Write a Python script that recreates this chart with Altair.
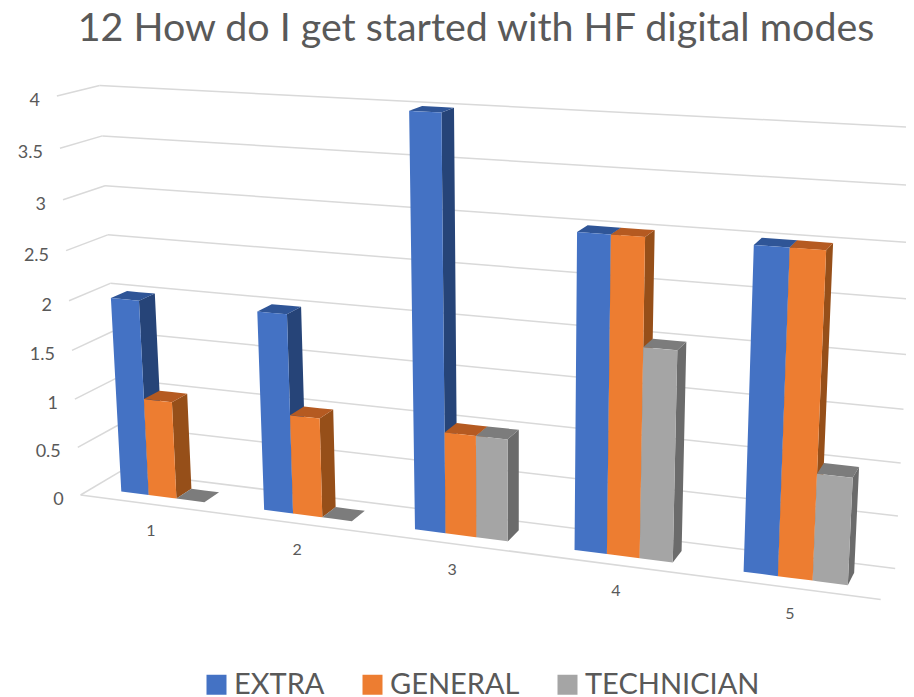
import altair as alt
import numpy as np
import pandas as pd

# ---- chart values ----
CATEGORIES = ["1", "2", "3", "4", "5"]
SERIES = ["EXTRA", "GENERAL", "TECHNICIAN"]
EXTRA = [2, 2, 4, 3, 3]
GENERAL = [1, 1, 1, 3, 3]
TECHNICIAN = [0, 0, 1, 2, 1]
VALUE_TICKS = [0, 0.5, 1, 1.5, 2, 2.5, 3, 3.5, 4]
TITLE = "12 How do I get started with HF digital modes"

FRONT = ["#4472C4", "#ED7D31", "#A5A5A5"]
SIDE = ["#264478", "#964F19", "#6B6B6B"]
TOP = ["#2F5597", "#B55A21", "#7C7C7C"]
GRID = "#D9D9D9"
TEXT = "#595959"
FONT = "Lato"

# ---- 3D camera fitted to the picture's walls: (s along axis, d depth, value) -> page px ----
front_left = [(80, 495), (78, 447), (75, 399), (72, 351), (69, 301), (66, 251), (63, 200), (60, 148), (57, 96)]
back_left = [(120, 472), (118, 425), (116, 378), (113, 331), (110, 283), (108, 235), (105, 186), (102, 136), (100, 85)]
back_right = [(895, 568), (898, 516), (901, 463), (903, 410), (907, 355), (909, 300), (912, 244), (915, 183), (918, 128)]
front_right_floor = (881, 599)

points = []
for v, p in zip(VALUE_TICKS, front_left):
    points.append((0, 0, v, *p))
for v, p in zip(VALUE_TICKS, back_left):
    points.append((0, 1, v, *p))
for v, p in zip(VALUE_TICKS, back_right):
    points.append((1, 1, v, *p))
points.append((1, 0, 0, *front_right_floor))

def fit_camera(weight_fn):
    rows, rhs = [], []
    for s, d, v, px, py in points:
        wt = weight_fn(s, d, v)
        rows.append([wt * c for c in (s, d, v, 1, 0, 0, 0, 0, -px * s, -px * d, -px * v)]); rhs.append(wt * px)
        rows.append([wt * c for c in (0, 0, 0, 0, s, d, v, 1, -py * s, -py * d, -py * v)]); rhs.append(wt * py)
    return np.linalg.lstsq(np.array(rows, float), np.array(rhs, float), rcond=None)[0]

P = fit_camera(lambda s, d, v: 1.0)
for _ in range(20):   # reweight so that the fit minimises error in pixels
    Q = P
    P = fit_camera(lambda s, d, v, Q=Q: 1.0 / (Q[8] * s + Q[9] * d + Q[10] * v + 1))

def project(s, d, v):
    w = P[8] * s + P[9] * d + P[10] * v + 1
    return (float((P[0] * s + P[1] * d + P[2] * v + P[3]) / w),
            float((P[4] * s + P[5] * d + P[6] * v + P[7]) / w))

def area_rows(poly, face, **extra):
    """Convex polygon -> x, top, bottom rows for an area mark."""
    xs = sorted({round(p[0], 3) for p in poly})
    out = []
    n = len(poly)
    for k, x in enumerate(xs):
        ys = []
        for i in range(n):
            (x0, y0), (x1, y1) = poly[i], poly[(i + 1) % n]
            lo, hi = min(x0, x1), max(x0, x1)
            if lo - 1e-3 <= x <= hi + 1e-3:
                if abs(x1 - x0) < 1e-3:
                    ys += [y0, y1]
                else:
                    ys.append(y0 + (y1 - y0) * (x - x0) / (x1 - x0))
        out.append(dict(x=x, y=min(ys), y2=max(ys), face=face, idx=k, **extra))
    return out

N = len(CATEGORIES)
BAR = 1 / 5.1 / N        # bar width along the axis
GAP = 1.05 * BAR         # half gap between category groups
D0, D1 = 0.30, 0.70      # depth of the bars

fronts, sides, tops = [], [], []
for c in range(N):
    for k, (name, vals) in enumerate(zip(SERIES, [EXTRA, GENERAL, TECHNICIAN])):
        v = vals[c]
        s0 = c / N + GAP + k * BAR
        s1 = s0 + BAR
        fid = f"f{c}s{k}"
        tops += area_rows([project(s0, D0, v), project(s1, D0, v), project(s1, D1, v), project(s0, D1, v)],
                          fid, fill=TOP[k])
        if v > 0:
            fronts += area_rows([project(s0, D0, 0), project(s1, D0, 0), project(s1, D0, v), project(s0, D0, v)],
                                fid, series=name)
            sides += area_rows([project(s1, D0, 0), project(s1, D1, 0), project(s1, D1, v), project(s1, D0, v)],
                               fid, fill=SIDE[k])

grid = []
for v in VALUE_TICKS:
    a, b, e = project(0, 0, v), project(0, 1, v), project(1, 1, v)
    grid.append(dict(x=a[0], y=a[1], x2=b[0], y2=b[1]))
    grid.append(dict(x=b[0], y=b[1], x2=e[0], y2=e[1]))
a, e = project(0, 0, 0), project(1, 0, 0)
grid.append(dict(x=a[0], y=a[1], x2=e[0], y2=e[1]))

value_labels = []
for v in VALUE_TICKS:
    px, py = project(0, 0, v)
    value_labels.append(dict(x=px - 17, y=py + 5, label=f"{v:g}"))

cat_labels = []
for c, name in enumerate(CATEGORIES):
    px, py = project((c + 0.5) / N, 0, 0)
    cat_labels.append(dict(x=px, y=py + 26.5, label=name))

# Page px scales: plot starts at page (8, 60)
X = alt.X("x:Q", axis=None, scale=alt.Scale(domain=[8, 906], nice=False, zero=False))
Y = alt.Y("y:Q", axis=None, scale=alt.Scale(domain=[697, 60], nice=False, zero=False))

grid_layer = alt.Chart(pd.DataFrame(grid)).mark_rule(color=GRID, strokeWidth=1.5).encode(
    x=X, y=Y, x2="x2:Q", y2="y2:Q")

def face_layer(rows_):
    return alt.Chart(pd.DataFrame(rows_)).mark_area(opacity=1, orient="vertical").encode(
        x=X, y=Y, y2="y2:Q", detail="face:N",
        color=alt.Color("fill:N", scale=None))

front_layer = alt.Chart(pd.DataFrame(fronts)).mark_area(opacity=1, orient="vertical").encode(
    x=X, y=Y, y2="y2:Q", detail="face:N",
    color=alt.Color("series:N",
                    scale=alt.Scale(domain=SERIES, range=FRONT),
                    legend=alt.Legend(title=None, orient="none", direction="horizontal",
                                      legendX=194, legendY=610, padding=0,
                                      symbolType="square", symbolSize=400, symbolStrokeWidth=0,
                                      labelFont=FONT, labelFontSize=29, labelColor=TEXT, labelLimit=400,
                                      labelOffset=3, columnPadding=33)))

value_text = alt.Chart(pd.DataFrame(value_labels)).mark_text(
    align="right", baseline="middle", font=FONT, fontSize=18, color=TEXT).encode(x=X, y=Y, text="label:N")
cat_text = alt.Chart(pd.DataFrame(cat_labels)).mark_text(
    align="center", baseline="middle", font=FONT, fontSize=16, color=TEXT).encode(x=X, y=Y, text="label:N")

chart = alt.layer(grid_layer, face_layer(sides), face_layer(tops), front_layer, value_text, cat_text).properties(
    width=898, height=637,
    padding={"left": 0, "top": 52, "right": 0, "bottom": 0},
    autosize=alt.AutoSizeParams(type="none"),
    title=alt.TitleParams(TITLE, font=FONT, fontSize=39.4, fontWeight="normal", color=TEXT,
                          anchor="middle", dx=19, offset=-20, baseline="alphabetic"),
    background="white",
).configure_view(stroke=None)

chart.save("out.html", embed_options={"renderer": "svg", "actions": False})
